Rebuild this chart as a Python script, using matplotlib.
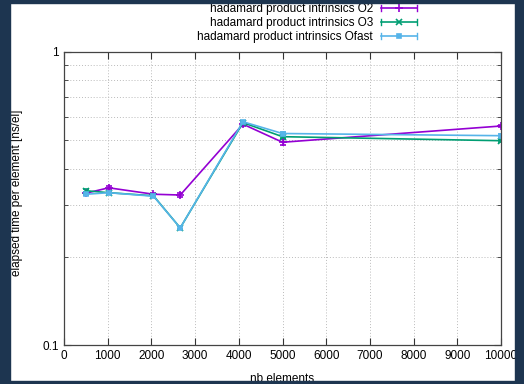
import numpy as np
import matplotlib.pyplot as plt
from matplotlib.patches import Rectangle
from matplotlib.lines import Line2D
from matplotlib.legend_handler import HandlerBase

plt.rcParams['font.family'] = ['Liberation Sans', 'DejaVu Sans']
plt.rcParams['font.size'] = 8.5

# mesures : temps par element (ns) selon la taille
nb_elements = [512, 1024, 2048, 2660, 4096, 5000, 10000]
o2 = [0.330, 0.344, 0.327, 0.325, 0.567, 0.492, 0.559]
o2_err = [0.004, 0.004, 0.004, 0.004, 0.006, 0.012, 0.005]
o3 = [0.336, 0.331, 0.323, 0.251, 0.574, 0.514, 0.498]
o3_err = [0.004, 0.003, 0.003, 0.003, 0.005, 0.006, 0.005]
ofast = [0.327, 0.331, 0.322, 0.251, 0.578, 0.527, 0.518]
ofast_err = [0.003, 0.003, 0.003, 0.003, 0.005, 0.006, 0.006]

labels = ['hadamard product intrinsics O2',
          'hadamard product intrinsics O3',
          'hadamard product intrinsics Ofast']
xticks = list(range(0, 10001, 1000))


class SampleErr(HandlerBase):
    # trait horizontal avec barres aux extremites et symbole au milieu
    def create_artists(self, legend, orig, xd, yd, width, height, fontsize, trans):
        c, m, ms = orig
        y = height / 2 - yd
        x0, x1 = -xd, width - xd
        h = height * 0.35
        arts = [Line2D([x0, x1], [y, y], color=c, lw=1.2),
                Line2D([x0, x0], [y - h, y + h], color=c, lw=1),
                Line2D([x1, x1], [y - h, y + h], color=c, lw=1),
                Line2D([(x0 + x1) / 2], [y], color=c, marker=m, ms=ms, mew=1.2, lw=0)]
        for a in arts:
            a.set_transform(trans)
        return arts


W, H = 524, 384
navy = '#1d3550'
fig = plt.figure(figsize=(W / 100, H / 100), dpi=100, facecolor='white')
ax = fig.add_axes([64 / W, 1 - 345 / H, (501 - 64) / W, (345 - 52) / H])

series = [(o2, o2_err, '#9400d3', '+', 6), (o3, o3_err, '#009e73', 'x', 4),
          (ofast, ofast_err, '#56b4e9', 's', 3.5)]
for (y, e, c, m, ms), lab in zip(series, labels):
    ax.errorbar(nb_elements, y, yerr=e, color=c, marker=m, ms=ms, lw=1.2,
                capsize=2.5, elinewidth=1, mew=1.2)

ax.set_yscale('log')
ax.set_ylim(0.1, 1)
ax.set_xlim(0, 10000)
ax.set_xticks(xticks)
ax.set_yticks([0.1, 1])
ax.set_yticklabels(['0.1', '1'])
ax.set_yticks([i / 10 for i in range(2, 10)], minor=True)
ax.yaxis.set_minor_formatter(plt.NullFormatter())
ax.tick_params(which='both', direction='in', top=True, right=True,
               colors='#333333', labelcolor='black', labelsize=8.5)
ax.tick_params(which='major', length=5)
ax.tick_params(which='minor', length=3)
ax.grid(True, which='both', color='#bbbbbb', ls=(0, (1, 2)), lw=0.7)
for s in ax.spines.values():
    s.set_color('#444444')
    s.set_linewidth(0.9)

ax.set_xlabel('nb elements')
ax.set_ylabel('elapsed time per element [ns/el]')
ax.xaxis.set_label_coords(0.5, -(373 - 345) / 293)
ax.yaxis.set_label_coords(-(64 - 23) / 437, (345 - 193) / 293)

keys = [(c, m, ms) for (_, _, c, m, ms) in series]
leg = ax.legend(keys, labels, handler_map={tuple: SampleErr()},
                loc='upper right', bbox_to_anchor=(419 / W, 1 - 1 / H), bbox_transform=fig.transFigure,
                frameon=False, markerfirst=False, handlelength=3,
                handletextpad=0.7, labelspacing=0.16, borderaxespad=0.0, borderpad=0.2)

# cadre sombre autour de l'image
for x0, y0, w, h in [(0, 0, 10, H), (515, 0, W - 515, H),
                     (0, 0, W, 3), (0, 381, W, H - 381)]:
    fig.patches.append(Rectangle((x0 / W, 1 - (y0 + h) / H), w / W, h / H,
                                 transform=fig.transFigure, color=navy, zorder=10))

fig.savefig('out.png', dpi=100, facecolor='white')
